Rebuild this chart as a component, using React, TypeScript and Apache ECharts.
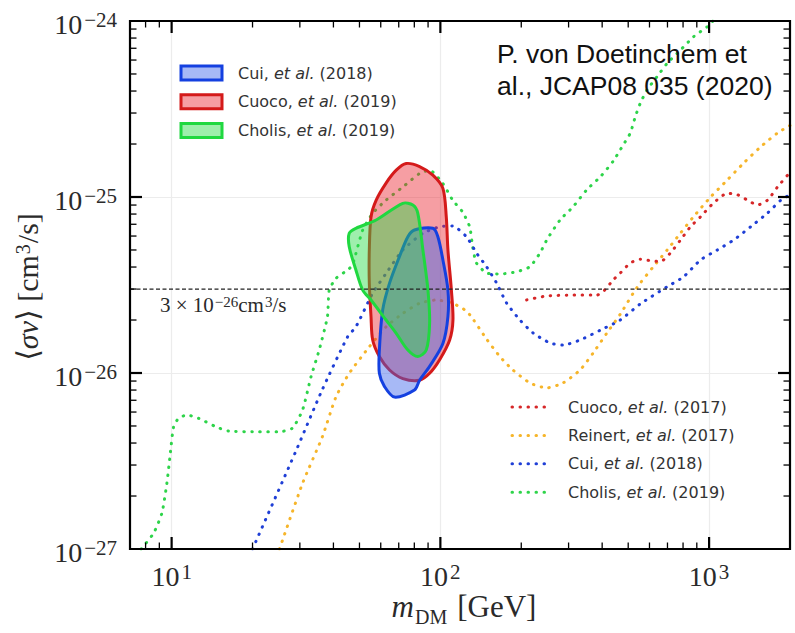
import React, { useEffect, useRef } from 'react';
import * as echarts from 'echarts';

// ---------- data (mass in GeV, <sigma v> in cm^3/s) ----------
const massRange = [7, 2000];
const sigmaRange = [1e-27, 1e-24];
const thermalRelic = 3e-26;

const cuoco2017: number[][] = [
  [209.4, 2.6e-26], [248.8, 2.74e-26], [311.9, 2.77e-26], [382.4, 2.77e-26], [403.6, 2.9e-26],
  [439.9, 3.38e-26], [467.2, 3.7e-26], [509.1, 4.22e-26], [554.9, 4.43e-26], [604.6, 4.35e-26],
  [659.1, 4.29e-26], [718.2, 4.81e-26], [782.9, 5.7e-26], [853, 6.78e-26], [929.6, 7.73e-26],
  [1039, 9.25e-26], [1169, 1.05e-25], [1275, 1.03e-25], [1389, 9.6e-26], [1514, 9.0e-26],
  [1650, 9.6e-26], [1797, 1.14e-25], [2000, 1.38e-25],
];

const reinert2017: number[][] = [
  [25.2, 1.0e-27], [30.7, 2.36e-27], [36.4, 4.35e-27], [40.9, 7.33e-27], [45.8, 9.96e-27],
  [54.4, 1.41e-26], [62.8, 1.83e-26], [72.5, 2.18e-26], [83.7, 2.49e-26], [96.6, 2.6e-26],
  [111.1, 2.49e-26], [125, 2.25e-26], [133, 2.0e-26], [148.5, 1.56e-26], [166.5, 1.24e-26],
  [186.1, 1.04e-26], [215.4, 8.78e-27], [248.8, 8.22e-27], [286.1, 8.78e-27], [331.1, 1.04e-26],
  [370.4, 1.3e-26], [416.8, 1.69e-26], [467.2, 2.16e-26], [522.4, 2.85e-26], [554.9, 3.25e-26],
  [620.4, 4.02e-26], [698.2, 5.0e-26], [782.9, 6.24e-26], [875.2, 7.73e-26], [1013, 1.0e-25],
  [1169, 1.25e-25], [1345, 1.56e-25], [1557, 1.93e-25], [1797, 2.31e-25], [2000, 2.55e-25],
];

const cui2018: number[][] = [
  [20, 1.0e-27], [29, 3.6e-27], [36.3, 8.0e-27], [45.2, 1.61e-26], [48.5, 1.83e-26],
  [56.0, 2.84e-26], [62.8, 3.68e-26], [72.5, 5.0e-26], [86.1, 6.22e-26], [99.4, 6.78e-26],
  [111.1, 6.84e-26], [125, 5.95e-26], [136.2, 4.81e-26], [148.5, 4.02e-26], [161.8, 3.25e-26],
  [176.3, 2.5e-26], [197.7, 2.0e-26], [221.1, 1.69e-26], [255.9, 1.48e-26], [286.1, 1.44e-26],
  [331.1, 1.54e-26], [393.4, 1.75e-26], [467.2, 2.0e-26], [554.9, 2.47e-26], [698.2, 3.09e-26],
  [803.3, 3.52e-26], [929.6, 4.39e-26], [1073, 5.0e-26], [1235, 5.7e-26], [1429, 6.78e-26],
  [1650, 8.11e-26], [1849, 9.6e-26], [2000, 1.03e-25],
];

const cholis2019: number[][] = [
  [7.7, 1.0e-27], [8.57, 1.23e-27], [9.2, 1.6e-27], [9.6, 2.36e-27], [9.89, 3.5e-27],
  [10.17, 4.95e-27], [10.62, 5.53e-27], [11.4, 5.77e-27], [12.6, 5.53e-27], [14.6, 4.95e-27],
  [16.3, 4.68e-27], [20.5, 4.64e-27], [25.1, 4.64e-27], [28.1, 4.85e-27], [30.7, 6.16e-27],
  [33.0, 9.5e-27], [35.4, 1.35e-26], [38.0, 2.09e-26], [38.6, 2.96e-26], [40.9, 3.45e-26],
  [45.2, 3.85e-26], [47.1, 4.11e-26], [51.4, 6.49e-26], [56.0, 8.08e-26], [62.8, 9.6e-26],
  [72.5, 1.14e-25], [83.7, 1.36e-25], [91.2, 1.42e-25], [101.9, 1.2e-25], [111.1, 9.6e-26],
  [121.1, 8.2e-26], [128.6, 6.76e-26], [131.9, 5.2e-26], [136.2, 4.22e-26], [148.5, 3.7e-26],
  [166.5, 3.65e-26], [192.2, 3.76e-26], [215.4, 4.02e-26], [234.9, 4.81e-26], [248.8, 5.7e-26],
  [278.8, 7.4e-26], [311.9, 8.81e-26], [350.8, 1.1e-25], [393.4, 1.3e-25], [439.9, 1.6e-25],
  [479.4, 1.98e-25], [509.1, 2.31e-25], [531.5, 2.86e-25], [554.9, 3.42e-25], [587.7, 4.06e-25],
  [640.5, 4.83e-25], [698.2, 5.75e-25], [782.9, 6.84e-25], [875.2, 8.14e-25], [984.7, 9.28e-25],
  [1039, 1.01e-24],
];

const cuiRegion: number[][] = [
  [80.1, 6.49e-26], [93.8, 6.64e-26], [97.9, 5.95e-26], [102.2, 4.39e-26], [106.7, 2.96e-26],
  [106.7, 2.09e-26], [102.2, 1.47e-26], [91.2, 1.09e-26], [83.7, 9.1e-27], [80.1, 8.0e-27],
  [67.5, 7.3e-27], [61.9, 8.4e-27], [59.3, 9.96e-27], [59.3, 1.35e-26], [61.0, 2.28e-26],
  [64.7, 3.24e-26], [70.4, 4.58e-26], [75.7, 5.95e-26],
];

const cuocoRegion: number[][] = [
  [74.6, 1.55e-25], [83.7, 1.49e-25], [93.8, 1.33e-25], [102.2, 1.12e-25], [105.2, 7.7e-26],
  [106.7, 5.0e-26], [109.9, 2.96e-26], [111.4, 2.0e-26], [108.3, 1.54e-26], [99.4, 1.19e-26],
  [91.2, 9.96e-27], [83.7, 9.1e-27], [72.5, 9.3e-27], [64.7, 1.04e-26], [59.3, 1.24e-26],
  [56.0, 1.54e-26], [55.2, 2.09e-26], [54.4, 3.24e-26], [54.4, 5.0e-26], [55.2, 7.7e-26],
  [57.7, 9.6e-26], [62.8, 1.2e-25], [68.5, 1.42e-25],
];

const cholisRegion: number[][] = [
  [45.8, 6.22e-26], [48.5, 6.64e-26], [57.7, 7.4e-26], [72.5, 9.21e-26], [79.0, 9.0e-26],
  [82.4, 8.1e-26], [86.1, 5.0e-26], [89.9, 2.96e-26], [91.2, 1.92e-26], [88.6, 1.35e-26],
  [82.4, 1.24e-26], [75.7, 1.35e-26], [68.5, 1.68e-26], [62.8, 2.0e-26], [55.2, 2.6e-26],
  [51.4, 2.96e-26], [48.5, 3.85e-26], [45.8, 5.22e-26],
];

const xMajorTicks = [10, 100, 1000];
const xMinorTicks = [8, 9, 20, 30, 40, 50, 60, 70, 80, 90, 200, 300, 400, 500, 600, 700, 800, 900];
const yMajorTicks = [1e-26, 1e-25];
const yMinorTicks = [
  2e-27, 3e-27, 4e-27, 5e-27, 6e-27, 7e-27, 8e-27, 9e-27,
  2e-26, 3e-26, 4e-26, 5e-26, 6e-26, 7e-26, 8e-26, 9e-26,
  2e-25, 3e-25, 4e-25, 5e-25, 6e-25, 7e-25, 8e-25, 9e-25,
];

const lineLegend = [
  { name: 'Cuoco', year: '(2017)', color: '#d62728' },
  { name: 'Reinert', year: '(2017)', color: '#f6b52a' },
  { name: 'Cui', year: '(2018)', color: '#1f3fd6' },
  { name: 'Cholis', year: '(2019)', color: '#2ed44a' },
];
const regionLegend = [
  { name: 'Cui', year: '(2018)', stroke: '#1440e0', fill: 'rgba(60,100,235,0.45)' },
  { name: 'Cuoco', year: '(2019)', stroke: '#d41a1a', fill: 'rgba(235,40,50,0.45)' },
  { name: 'Cholis', year: '(2019)', stroke: '#20d840', fill: 'rgba(40,220,70,0.45)' },
];

// ECharts' log scale loses precision for values like 1e-27, so the y axis is
// drawn in units of 1e-27 cm^3/s and relabelled as powers of ten.
const SIGMA_UNIT = 1e-27;
const UNIT_EXP = -27;
const sy = (s: number) => s / SIGMA_UNIT;
const toPlot = (pts: number[][]) => pts.map(([m, s]) => [m, sy(s)]);

const SERIF = "'Liberation Serif', 'DejaVu Serif', serif";
const SANS = "'DejaVu Sans', sans-serif";
const TXT = '#2a2a2a';

function powLabel(e: number) {
  const es = e < 0 ? '\u2212' + String(-e) : String(e);
  return '{b|10}{s|' + es + '}';
}
function xFormatter(v: number) {
  const lg = Math.log10(v);
  const e = Math.round(lg);
  if (Math.abs(lg - e) > 1e-6) return '';
  return powLabel(e);
}
function yFormatter(v: number) {
  const lg = Math.log10(v);
  const e = Math.round(lg);
  if (Math.abs(lg - e) > 1e-6) return '';
  return powLabel(e + UNIT_EXP);
}

const tickRich = {
  b: { fontFamily: SERIF, fontSize: 28, lineHeight: 29, verticalAlign: 'top', padding: [4, 0, 0, 0], color: TXT },
  s: { fontFamily: SERIF, fontSize: 21, lineHeight: 17, verticalAlign: 'top', padding: [3, 0, 0, 2], color: TXT },
};

function dottedSeries(name: string, data: number[][], color: string) {
  return {
    type: 'line', name, data: toPlot(data), showSymbol: false, symbol: 'none', smooth: 0.2, z: 2,
    lineStyle: { color, width: 3, type: [0.5, 7.5], cap: 'round' },
    silent: true,
  };
}

function regionSeries(name: string, pts: number[][], stroke: string, fill: string, z: number) {
  const plotPts = toPlot(pts);
  return {
    type: 'custom', name, coordinateSystem: 'cartesian2d', data: plotPts, z, silent: true,
    renderItem: (params: any, api: any) => {
      if (params.dataIndex !== 0) return { type: 'group', children: [] };
      const points = plotPts.map((p) => api.coord(p));
      return {
        type: 'polygon',
        shape: { points, smooth: 0.3 },
        style: { fill, stroke, lineWidth: 3, lineJoin: 'round' },
      };
    },
  };
}

export default function App() {
  const ref = useRef<HTMLDivElement>(null);
  useEffect(() => {
    document.body.style.margin = '0';
    if (!ref.current) return;
    const chart = echarts.init(ref.current, undefined, { renderer: 'svg' });

    const xTickData = [
      ...xMajorTicks.map((v) => [v, 10, 1]),
      ...xMinorTicks.map((v) => [v, 10, 0]),
    ];
    const yTickData = [
      ...yMajorTicks.map((v) => [100, sy(v), 1]),
      ...yMinorTicks.map((v) => [100, sy(v), 0]),
    ];

    const graphic: any[] = [];
    regionLegend.forEach((r, i) => {
      const cy = 73 + i * 28.8;
      graphic.push({
        type: 'rect', shape: { x: 181, y: cy - 7, width: 41, height: 14 },
        style: { fill: r.fill, stroke: r.stroke, lineWidth: 3 }, z: 100,
      });
      graphic.push({
        type: 'text', x: 238, y: cy, z: 100,
        style: {
          text: '{n|' + r.name + ', }{i|et al.}{n| ' + r.year + '}',
          verticalAlign: 'middle', align: 'left',
          rich: {
            n: { fontFamily: SANS, fontSize: 16, fill: '#333', color: '#333' },
            i: { fontFamily: SANS, fontSize: 16, fontStyle: 'italic', fill: '#333', color: '#333' },
          },
        },
      });
    });
    lineLegend.forEach((l, i) => {
      const cy = 407 + i * 28.4;
      graphic.push({
        type: 'line', shape: { x1: 512, y1: cy, x2: 550, y2: cy }, z: 100,
        style: { stroke: l.color, lineWidth: 3, lineDash: [0.5, 7.5], lineCap: 'round' },
      });
      graphic.push({
        type: 'text', x: 568, y: cy, z: 100,
        style: {
          text: '{n|' + l.name + ', }{i|et al.}{n| ' + l.year + '}',
          verticalAlign: 'middle', align: 'left',
          rich: {
            n: { fontFamily: SANS, fontSize: 16, fill: '#333', color: '#333' },
            i: { fontFamily: SANS, fontSize: 16, fontStyle: 'italic', fill: '#333', color: '#333' },
          },
        },
      });
    });
    graphic.push({
      type: 'text', x: 497, y: 38, z: 100,
      style: {
        text: 'P. von Doetinchem et\nal., JCAP08 035 (2020)',
        fontFamily: "'Liberation Sans', Arial, sans-serif", fontSize: 26.5, lineHeight: 32,
        fill: '#111', align: 'left', verticalAlign: 'top',
      },
    });
    graphic.push({
      type: 'text', x: 160, y: 294, z: 100,
      style: {
        text: '{b|3 \u00d7 10}{s|\u221226}{b|cm}{s|3}{b|/s}',
        align: 'left', verticalAlign: 'top',
        rich: {
          b: { fontFamily: SERIF, fontSize: 21, lineHeight: 23, verticalAlign: 'top', fill: TXT, color: TXT },
          s: { fontFamily: SERIF, fontSize: 15, lineHeight: 12, verticalAlign: 'top', padding: [0, 0, 0, 1], fill: TXT, color: TXT },
        },
      },
    });
    graphic.push({
      type: 'text', x: 464, y: 607, z: 100,
      style: {
        text: '{m|m}{d|DM}{t|[GeV]}',
        align: 'center', verticalAlign: 'middle',
        rich: {
          m: { fontFamily: SERIF, fontSize: 31, fontStyle: 'italic', lineHeight: 32, verticalAlign: 'top', fill: TXT, color: TXT },
          d: { fontFamily: SERIF, fontSize: 20, lineHeight: 20, verticalAlign: 'top', padding: [16, 0, 0, 1], fill: TXT, color: TXT },
          t: { fontFamily: SERIF, fontSize: 31, lineHeight: 32, verticalAlign: 'top', padding: [0, 0, 0, 10], fill: TXT, color: TXT },
        },
      },
    });
    graphic.push({
      type: 'text', x: 28, y: 287, rotation: Math.PI / 2, z: 100,
      style: {
        text: '{a|\u27e8}{i|\u03c3v}{a|\u27e9 [cm}{s|3}{a|/s]}',
        align: 'center', verticalAlign: 'middle',
        rich: {
          a: { fontFamily: SERIF, fontSize: 30, lineHeight: 31, verticalAlign: 'top', fill: TXT, color: TXT },
          i: { fontFamily: SERIF, fontSize: 30, fontStyle: 'italic', lineHeight: 31, verticalAlign: 'top', fill: TXT, color: TXT },
          s: { fontFamily: SERIF, fontSize: 20, lineHeight: 17, verticalAlign: 'top', padding: [0, 1, 0, 1], fill: TXT, color: TXT },
        },
      },
    });

    const option: any = {
      animation: false,
      backgroundColor: '#fff',
      grid: { left: 130, right: 5, top: 21, bottom: 84, show: false },
      xAxis: {
        type: 'log', logBase: 10, min: massRange[0], max: massRange[1],
        axisLine: { show: false }, axisTick: { show: false }, minorTick: { show: false },
        splitLine: { show: true, lineStyle: { color: '#ececec', width: 1.2 } },
        axisLabel: { margin: 9, formatter: xFormatter, rich: tickRich, color: TXT },
      },
      yAxis: {
        type: 'log', logBase: 10, min: sy(sigmaRange[0]), max: sy(sigmaRange[1]),
        axisLine: { show: false }, axisTick: { show: false }, minorTick: { show: false },
        splitLine: { show: true, lineStyle: { color: '#ececec', width: 1.2 } },
        axisLabel: { margin: 13, formatter: yFormatter, rich: tickRich, color: TXT, align: 'right' },
      },
      graphic,
      series: [
        dottedSeries('Cholis 2019 limit', cholis2019, lineLegend[3].color),
        dottedSeries('Cui 2018 limit', cui2018, lineLegend[2].color),
        dottedSeries('Reinert 2017 limit', reinert2017, lineLegend[1].color),
        dottedSeries('Cuoco 2017 limit', cuoco2017, lineLegend[0].color),
        regionSeries('Cuoco 2019', cuocoRegion, regionLegend[1].stroke, regionLegend[1].fill, 3),
        regionSeries('Cui 2018', cuiRegion, regionLegend[0].stroke, regionLegend[0].fill, 4),
        regionSeries('Cholis 2019', cholisRegion, regionLegend[2].stroke, regionLegend[2].fill, 5),
        {
          type: 'line', name: 'thermal relic',
          data: [[massRange[0], sy(thermalRelic)], [massRange[1], sy(thermalRelic)]],
          showSymbol: false, symbol: 'none', z: 6, silent: true,
          lineStyle: { color: '#222', width: 1.3, type: [4, 2.5] },
        },
        {
          type: 'custom', name: 'xticks', coordinateSystem: 'cartesian2d', data: xTickData, z: 20, silent: true,
          renderItem: (params: any, api: any) => {
            const cs = params.coordSys;
            const major = api.value(2) === 1;
            const p = api.coord([api.value(0), api.value(1)]);
            const L = major ? 12 : 6.5;
            const st = { stroke: '#000', lineWidth: major ? 2.2 : 1.3 };
            const children: any[] = [
              { type: 'line', shape: { x1: p[0], y1: cs.y + cs.height, x2: p[0], y2: cs.y + cs.height - L }, style: st },
              { type: 'line', shape: { x1: p[0], y1: cs.y, x2: p[0], y2: cs.y + L }, style: st },
            ];
            if (params.dataIndex === 0) {
              children.push({
                type: 'rect', shape: { x: cs.x, y: cs.y, width: cs.width, height: cs.height },
                style: { fill: 'none', stroke: '#000', lineWidth: 2.2 },
              });
            }
            return { type: 'group', children };
          },
        },
        {
          type: 'custom', name: 'yticks', coordinateSystem: 'cartesian2d', data: yTickData, z: 20, silent: true,
          renderItem: (params: any, api: any) => {
            const cs = params.coordSys;
            const major = api.value(2) === 1;
            const p = api.coord([api.value(0), api.value(1)]);
            const L = major ? 12 : 6.5;
            const st = { stroke: '#000', lineWidth: major ? 2.2 : 1.3 };
            return {
              type: 'group',
              children: [
                { type: 'line', shape: { x1: cs.x, y1: p[1], x2: cs.x + L, y2: p[1] }, style: st },
                { type: 'line', shape: { x1: cs.x + cs.width, y1: p[1], x2: cs.x + cs.width - L, y2: p[1] }, style: st },
              ],
            };
          },
        },
      ],
    };
    chart.setOption(option);
    return () => chart.dispose();
  }, []);
  return <div ref={ref} style={{ width: 795, height: 633 }} />;
}
